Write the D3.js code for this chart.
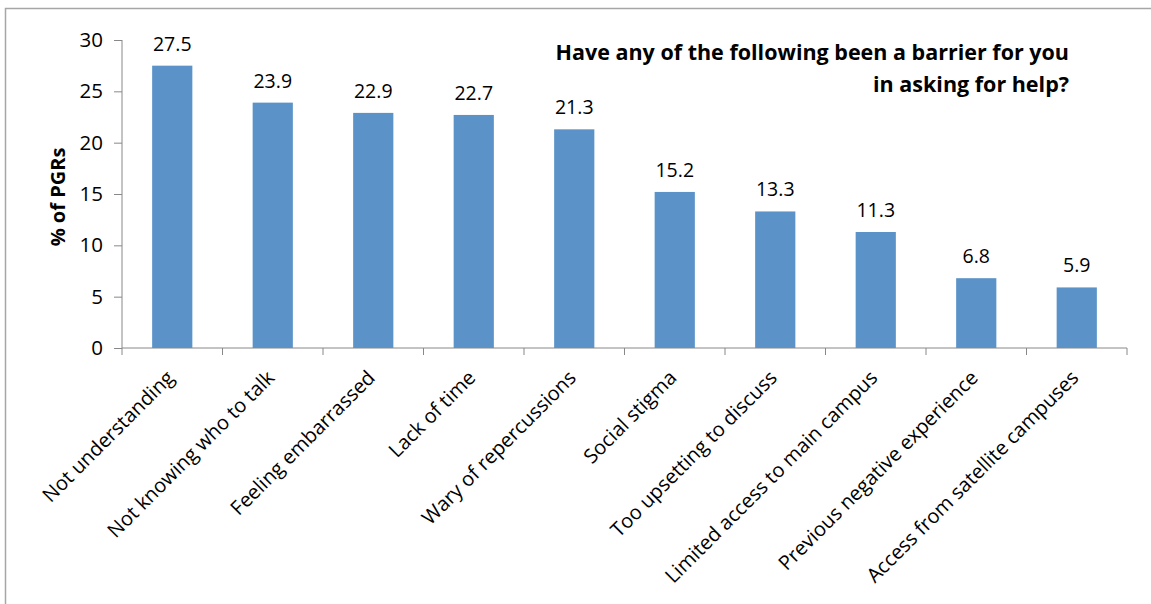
<!DOCTYPE html>
<html><head><meta charset="utf-8">
<script src="https://cdn.jsdelivr.net/npm/d3@7"></script>
<style>
html,body{margin:0;padding:0;background:#fff;}
svg{display:block;}
text{font-family:"Open Sans","Noto Sans",sans-serif;fill:#000;}
</style></head>
<body>
<svg id="chart" width="1151" height="604"></svg>
<script>
const categories = ["Not understanding","Not knowing who to talk","Feeling embarrassed","Lack of time","Wary of repercussions","Social stigma","Too upsetting to discuss","Limited access to main campus","Previous negative experience","Access from satellite campuses"];
const values = [27.5,23.9,22.9,22.7,21.3,15.2,13.3,11.3,6.8,5.9];
const yTicks = [0,5,10,15,20,25,30];
const titleLines = ["Have any of the following been a barrier for you","in asking for help?"];
const yTitle = "% of PGRs";

(function(){
const svg = d3.select("#chart");
const pL = 122, pR = 1127, pT = 40, pB = 348;
const x = d3.scaleBand().domain(categories).range([pL, pR]).paddingInner(0.6).paddingOuter(0.3);
const xb = d3.scaleBand().domain(categories).range([pL, pR]);
const y = d3.scaleLinear().domain([0,30]).range([pB, pT]);

// outer border
svg.append("path").attr("d","M5.5,604V8.5H1151").attr("fill","none").attr("stroke","#a6a6a6").attr("stroke-width",1.5);

// bars
svg.selectAll("rect.bar").data(values).join("rect").attr("class","bar")
  .attr("x",(d,i)=>x(categories[i])).attr("width",x.bandwidth())
  .attr("y",d=>y(d)).attr("height",d=>y(0)-y(d)).attr("fill","#5b93c8");

// value labels
svg.selectAll("text.val").data(values).join("text").attr("class","val")
  .attr("x",(d,i)=>xb(categories[i])+xb.bandwidth()/2).attr("y",d=>y(d)-15)
  .attr("text-anchor","middle").style("font-size","19.5px").text(d=>d.toFixed(1));

// y axis
const ya = svg.append("g").attr("transform",`translate(${pL},0)`)
  .call(d3.axisLeft(y).tickValues(yTicks).tickSize(8).tickPadding(11));
ya.select(".domain").attr("stroke","#888").attr("d",`M0,${pT}V${pB}`);
ya.selectAll(".tick line").attr("stroke","#888");
ya.selectAll(".tick text").style("font-size","20.5px").style("font-family","'Open Sans'").attr("fill","#000");

// x axis
const xa = svg.append("g").attr("transform",`translate(0,${pB})`);
xa.append("line").attr("x1",pL).attr("x2",pR).attr("stroke","#888");
const bounds = categories.map(c=>xb(c)).concat([pR]);
xa.selectAll("line.tk").data(bounds).join("line").attr("class","tk")
  .attr("x1",d=>d).attr("x2",d=>d).attr("y1",0).attr("y2",7).attr("stroke","#888");
xa.selectAll("text.cat").data(categories).join("text").attr("class","cat")
  .attr("transform",c=>`translate(${xb(c)+xb.bandwidth()/2+3},${31}) rotate(-45)`)
  .attr("text-anchor","end").style("font-size","20px").text(c=>c);

// y title
svg.append("text").attr("transform","translate(65,197) rotate(-90)")
  .attr("text-anchor","middle").style("font-size","20px").style("font-weight","bold").text(yTitle);

// title
svg.selectAll("text.title").data(titleLines).join("text").attr("class","title")
  .attr("x",1069).attr("y",(d,i)=>60+i*32).attr("text-anchor","end")
  .style("font-size","21.5px").style("font-weight","bold").text(d=>d);
})();
</script>
</body></html>
